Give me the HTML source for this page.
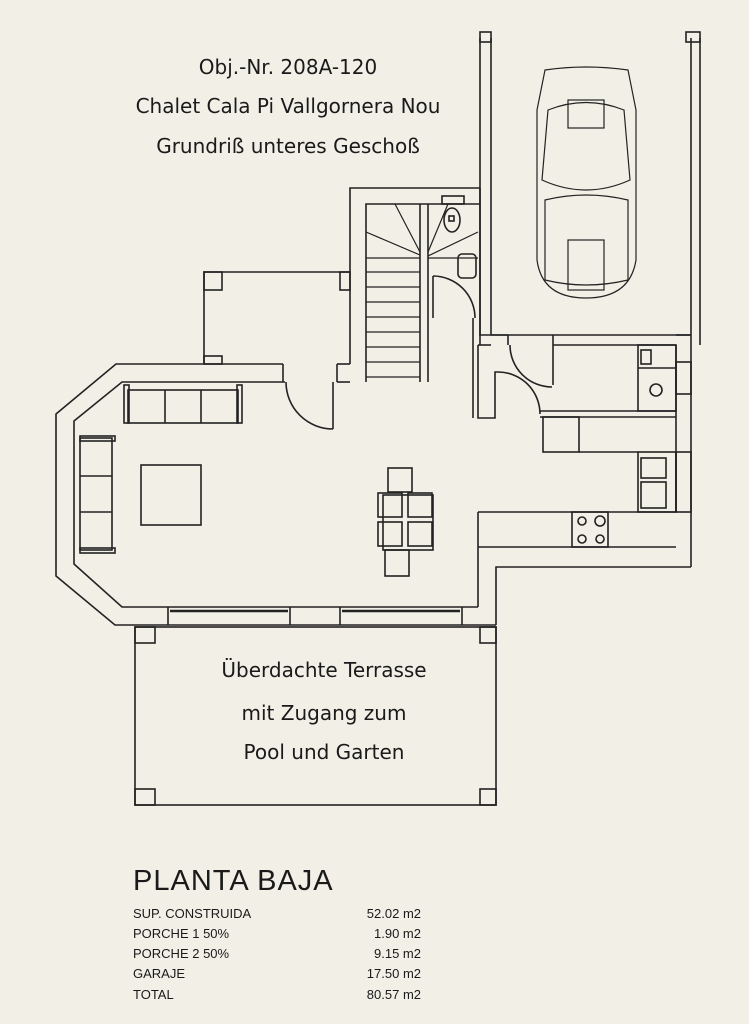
<!DOCTYPE html>
<html><head><meta charset="utf-8"><style>
html,body{margin:0;padding:0;background:#f1efe6;}
svg{display:block}
text{font-family:"DejaVu Sans","Liberation Sans",sans-serif;fill:#1a1a1a}
.t{font-size:20px;text-anchor:middle}
.s{font-family:"Liberation Sans",sans-serif;font-size:13px}
</style></head><body>
<svg width="749" height="1024" viewBox="0 0 749 1024" xmlns="http://www.w3.org/2000/svg">
<rect width="749" height="1024" fill="#f1efe6"/>
<g fill="none" stroke="#222" stroke-width="1.6">
<!-- living outer -->
<polyline points="283,364 116,364 56,414 56,576 115,625 496,625"/>
<polyline points="285,382 122,382 74,421 74,564 122,607 478,607"/>
<!-- windows -->
<line x1="168" y1="607" x2="168" y2="625"/><line x1="290" y1="607" x2="290" y2="625"/>
<line x1="340" y1="607" x2="340" y2="625"/><line x1="462" y1="607" x2="462" y2="625"/>
<line x1="170" y1="611" x2="288" y2="611" stroke-width="2.5"/><line x1="342" y1="611" x2="460" y2="611" stroke-width="2.5"/>
<!-- porch 1 -->
<polyline points="204,364 204,272 350,272"/>
<rect x="204" y="272" width="18" height="18"/><rect x="204" y="356" width="18" height="8"/><rect x="340" y="272" width="10" height="18"/>
<!-- door living -->
<line x1="283" y1="364" x2="283" y2="382"/><line x1="337" y1="364" x2="337" y2="382"/>
<line x1="337" y1="382" x2="350" y2="382"/>
<line x1="333" y1="382" x2="333" y2="429"/>
<path d="M286,382 A47,47 0 0 0 333,429"/>
<!-- stair block -->
<polyline points="350,364 350,188 480,188"/>
<polyline points="366,382 366,204 480,204"/>
<line x1="350" y1="364" x2="337" y2="364"/>
<line x1="420" y1="204" x2="420" y2="382"/><line x1="428" y1="204" x2="428" y2="382"/>
<g stroke-width="1.2">
<line x1="366" y1="258" x2="420" y2="258"/><line x1="366" y1="272" x2="420" y2="272"/><line x1="366" y1="287" x2="420" y2="287"/>
<line x1="366" y1="302" x2="420" y2="302"/><line x1="366" y1="317" x2="420" y2="317"/><line x1="366" y1="332" x2="420" y2="332"/>
<line x1="366" y1="347" x2="420" y2="347"/><line x1="366" y1="362" x2="420" y2="362"/><line x1="366" y1="377" x2="420" y2="377"/>
<line x1="420" y1="255" x2="366" y2="232"/><line x1="420" y1="252" x2="395" y2="204"/>
<line x1="428" y1="252" x2="448" y2="204"/><line x1="428" y1="256" x2="478" y2="232"/>
<line x1="428" y1="258" x2="478" y2="258"/>
</g>
<!-- WC fixtures -->
<rect x="442" y="196" width="22" height="8"/><ellipse cx="452" cy="220" rx="8" ry="12"/><rect x="449" y="216" width="5" height="5"/>
<rect x="458" y="254" width="18" height="24" rx="4"/>
<!-- WC door -->
<line x1="433" y1="276" x2="433" y2="318"/>
<path d="M433,276 A42,42 0 0 1 475,318"/>
<line x1="480" y1="188" x2="480" y2="345"/><line x1="473" y1="318" x2="473" y2="418"/>
<!-- garage -->
<polyline points="480,38 480,335 508,335"/>
<polyline points="491,38 491,335"/>
<line x1="491" y1="335" x2="691" y2="335"/>
<line x1="691" y1="38" x2="691" y2="335"/><line x1="700" y1="38" x2="700" y2="345"/>
<rect x="480" y="32" width="11" height="10"/><rect x="686" y="32" width="14" height="10"/>
<!-- car -->
<g stroke-width="1.2">
<path d="M545,70 Q586,64 628,70 L636,110 L636,260 Q630,298 586,298 Q542,298 537,260 L537,110 Z"/>
<path d="M548,110 Q586,95 624,110 L630,180 Q586,200 542,180 Z"/>
<rect x="568" y="100" width="36" height="28"/>
<path d="M545,200 Q586,190 628,200 L628,280 Q586,290 545,280 Z"/>
<rect x="568" y="240" width="36" height="50"/>
</g>
<!-- hall/kitchen -->
<line x1="508" y1="335" x2="508" y2="345"/><line x1="553" y1="335" x2="553" y2="385"/>
<line x1="553" y1="345" x2="676" y2="345"/>
<path d="M510,345 A42,42 0 0 0 552,387"/>
<polyline points="478,345 478,418 495,418 495,372 498,372"/>
<line x1="491" y1="345" x2="478" y2="345"/>
<path d="M498,372 A42,42 0 0 1 540,414"/>
<line x1="540" y1="411" x2="676" y2="411"/><line x1="540" y1="417" x2="676" y2="417"/>
<rect x="543" y="417" width="36" height="35"/>
<line x1="579" y1="452" x2="638" y2="452"/>
<rect x="638" y="345" width="38" height="66"/>
<line x1="638" y1="368" x2="676" y2="368"/>
<circle cx="656" cy="390" r="6"/>
<rect x="641" y="350" width="10" height="14"/>
<rect x="638" y="452" width="38" height="60"/>
<rect x="641" y="458" width="25" height="20"/><rect x="641" y="482" width="25" height="26"/>
<line x1="676" y1="345" x2="676" y2="512"/><line x1="691" y1="335" x2="691" y2="567"/>
<polyline points="676,335 691,335"/>
<rect x="676" y="362" width="15" height="32"/><rect x="676" y="452" width="15" height="60"/>
<line x1="478" y1="512" x2="676" y2="512"/><line x1="478" y1="547" x2="676" y2="547"/>
<line x1="478" y1="512" x2="478" y2="607"/>
<rect x="572" y="512" width="36" height="35"/>
<circle cx="582" cy="521" r="4"/><circle cx="600" cy="521" r="5"/><circle cx="582" cy="539" r="4"/><circle cx="600" cy="539" r="4"/>
<polyline points="496,625 496,567 691,567"/>
<!-- sofas -->
<rect x="128" y="390" width="110" height="33"/><line x1="165" y1="390" x2="165" y2="423"/><line x1="201" y1="390" x2="201" y2="423"/>
<rect x="124" y="385" width="5" height="38"/><rect x="237" y="385" width="5" height="38"/>
<rect x="80" y="438" width="32" height="112"/><line x1="80" y1="476" x2="112" y2="476"/><line x1="80" y1="512" x2="112" y2="512"/>
<rect x="80" y="436" width="35" height="5"/><rect x="80" y="548" width="35" height="5"/>
<rect x="141" y="465" width="60" height="60"/>
<!-- dining -->
<rect x="388" y="468" width="24" height="24"/><rect x="383" y="495" width="50" height="55"/>
<rect x="378" y="493" width="24" height="24"/><rect x="408" y="493" width="24" height="24"/>
<rect x="378" y="522" width="24" height="24"/><rect x="408" y="522" width="24" height="24"/>
<rect x="385" y="550" width="24" height="26"/>
<!-- terrace -->
<rect x="135" y="627" width="361" height="178"/>
<rect x="135" y="627" width="20" height="16"/><rect x="480" y="627" width="16" height="16"/>
<rect x="135" y="789" width="20" height="16"/><rect x="480" y="789" width="16" height="16"/>
</g>
<text class="t" x="288" y="74">Obj.-Nr. 208A-120</text>
<text class="t" x="288" y="113">Chalet Cala Pi Vallgornera Nou</text>
<text class="t" x="288" y="153">Grundriß unteres Geschoß</text>
<text class="t" x="324" y="677">Überdachte Terrasse</text>
<text class="t" x="324" y="720">mit Zugang zum</text>
<text class="t" x="324" y="759">Pool und Garten</text>
<text x="133" y="890" style="font-family:'Liberation Sans',sans-serif;font-size:29px;font-weight:100;letter-spacing:1px">PLANTA BAJA</text>
<g class="s">
<text class="s" x="133" y="918">SUP. CONSTRUIDA</text><text class="s" x="421" y="918" text-anchor="end">52.02 m2</text>
<text class="s" x="133" y="938">PORCHE 1 50%</text><text class="s" x="421" y="938" text-anchor="end">1.90 m2</text>
<text class="s" x="133" y="958">PORCHE 2 50%</text><text class="s" x="421" y="958" text-anchor="end">9.15 m2</text>
<text class="s" x="133" y="978">GARAJE</text><text class="s" x="421" y="978" text-anchor="end">17.50 m2</text>
<text class="s" x="133" y="999">TOTAL</text><text class="s" x="421" y="999" text-anchor="end">80.57 m2</text>
</g>
</svg>
</body></html>
